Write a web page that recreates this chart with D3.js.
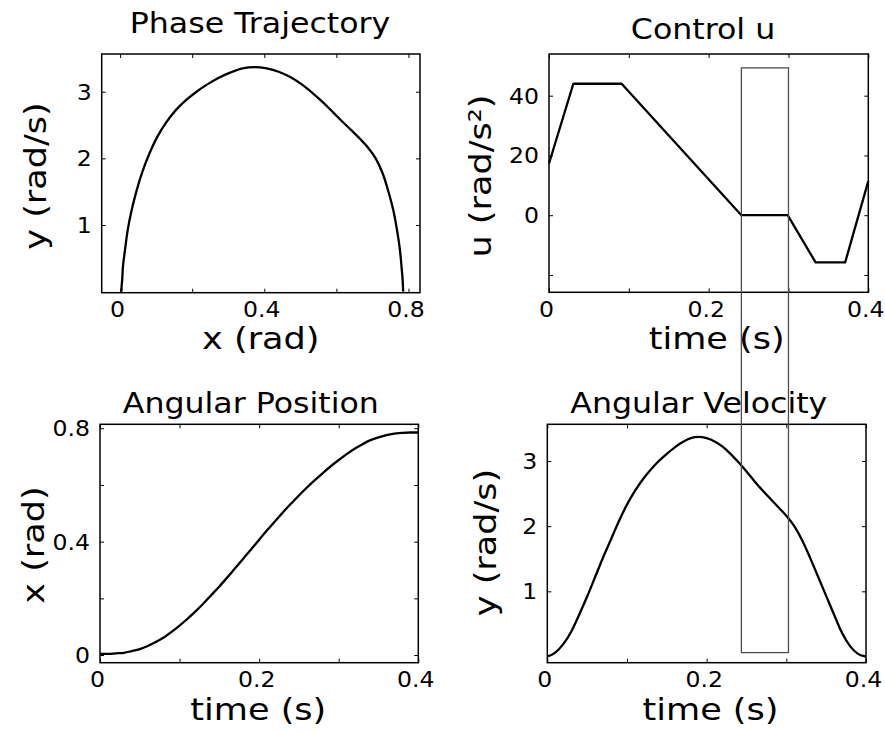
<!DOCTYPE html>
<html>
<head>
<meta charset="utf-8">
<script src="https://cdn.jsdelivr.net/npm/d3@7"></script>
<style>
  body { margin: 0; background: #fff; }
  svg { display: block; font-family: "DejaVu Sans", sans-serif; }
</style>
</head>
<body>
<script>
// time samples (s) shared by position / velocity / phase plots
var timeS = [0, 0.01, 0.02, 0.03, 0.04, 0.05, 0.06, 0.07, 0.08, 0.09,
    0.10, 0.11, 0.12, 0.13, 0.14, 0.15, 0.16, 0.17, 0.18, 0.19,
    0.20, 0.21, 0.22, 0.23, 0.24, 0.25, 0.26, 0.27, 0.28, 0.29,
    0.30, 0.31, 0.32, 0.33, 0.34, 0.35, 0.36, 0.37, 0.38, 0.39, 0.40];

// angular position x (rad)
var angularPosition = [0.004, 0.004, 0.006, 0.008, 0.014, 0.021, 0.032, 0.046, 0.062, 0.082,
    0.104, 0.128, 0.154, 0.182, 0.212, 0.242, 0.274, 0.307, 0.340, 0.373,
    0.407, 0.440, 0.472, 0.504, 0.534, 0.563, 0.591, 0.617, 0.642, 0.666,
    0.688, 0.709, 0.728, 0.744, 0.758, 0.768, 0.776, 0.781, 0.784, 0.785, 0.785];

// angular velocity y (rad/s)
var angularVelocity = [0.00, 0.06, 0.19, 0.38, 0.64, 0.92, 1.22, 1.52, 1.80, 2.08,
    2.33, 2.54, 2.72, 2.87, 3.00, 3.11, 3.21, 3.29, 3.35, 3.37,
    3.35, 3.30, 3.22, 3.11, 2.98, 2.84, 2.69, 2.55, 2.42, 2.29,
    2.16, 2.00, 1.78, 1.51, 1.22, 0.93, 0.64, 0.36, 0.16, 0.04, 0.00];

// control u (rad/s^2), piecewise linear breakpoints
var controlTime = [0, 0.0305, 0.091, 0.241, 0.299, 0.334, 0.371, 0.4];
var controlU = [17.3, 44, 44, 0, 0, -15.8, -15.8, 11.4];

// highlighted window
var highlightTime = [0.241, 0.300];
var highlightUTop = 49.3;
var highlightVBottom = 0.06;

// ticks and tick labels
var phaseXTicks = [0, 0.2, 0.4, 0.6, 0.8], phaseXLabels = [0, 0.4, 0.8];
var phaseYTicks = [1, 2, 3], phaseYLabels = [1, 2, 3];
var timeTicks = [0, 0.1, 0.2, 0.3, 0.4], timeLabels = [0, 0.2, 0.4];
var controlYTicks = [-20, 0, 20, 40], controlYLabels = [0, 20, 40];
var positionYTicks = [0, 0.2, 0.4, 0.6, 0.8], positionYLabels = [0, 0.4, 0.8];
var velocityYTicks = [1, 2, 3], velocityYLabels = [1, 2, 3];

var STRETCH = 1.15;

var svg = d3.select("body").append("svg")
    .attr("width", 885)
    .attr("height", 731);

svg.append("rect").attr("width", 885).attr("height", 731).attr("fill", "#fff");

// panel layout
var panels = [
    {
        box: {left: 101.7, right: 420, top: 54, bottom: 292.7},
        xDomain: [-0.051, 0.832], yDomain: [-0.016, 3.566],
        xTicks: phaseXTicks, xLabels: phaseXLabels, yTicks: phaseYTicks, yLabels: phaseYLabels,
        title: "Phase Trajectory", titlePos: [260, 33.3],
        xlabel: "x (rad)", xlabelPos: [260.8, 349],
        ylabel: "y (rad/s)", ylabelPos: [46, 176]
    },
    {
        box: {left: 549, right: 868.3, top: 54, bottom: 292.3},
        xDomain: [0, 0.4], yDomain: [-25.8, 53.95],
        xTicks: timeTicks, xLabels: timeLabels, yTicks: controlYTicks, yLabels: controlYLabels,
        title: "Control u", titlePos: [703, 39],
        xlabel: "time (s)", xlabelPos: [716.7, 349],
        ylabel: "u (rad/s\u00b2)", ylabelPos: [491, 176]
    },
    {
        box: {left: 100, right: 418.3, top: 424.3, bottom: 662.7},
        xDomain: [0, 0.4], yDomain: [-0.027, 0.814],
        xTicks: timeTicks, xLabels: timeLabels, yTicks: positionYTicks, yLabels: positionYLabels,
        title: "Angular Position", titlePos: [250.8, 413.3],
        xlabel: "time (s)", xlabelPos: [258.3, 719.5],
        ylabel: "x (rad)", ylabelPos: [44, 545]
    },
    {
        box: {left: 547.3, right: 866, top: 424.3, bottom: 662.7},
        xDomain: [0, 0.4], yDomain: [-0.095, 3.563],
        xTicks: timeTicks, xLabels: timeLabels, yTicks: velocityYTicks, yLabels: velocityYLabels,
        title: "Angular Velocity", titlePos: [698.8, 413.3],
        xlabel: "time (s)", xlabelPos: [710.5, 719.5],
        ylabel: "y (rad/s)", ylabelPos: [496, 542.5]
    }
];

function addText(g, str, x, y, size, rotate) {
    g.append("text")
        .attr("transform", "translate(" + x + "," + y + ")" + (rotate ? " rotate(-90)" : "") +
            " scale(" + STRETCH + ",1)")
        .attr("text-anchor", "middle")
        .style("font-size", size + "px")
        .attr("fill", "#000")
        .text(str);
}

function fmt(labels) {
    return function (d) {
        return labels.indexOf(d) >= 0 ? String(d) : "";
    };
}

panels.forEach(function (p) {
    var b = p.box;
    p.x = d3.scaleLinear().domain(p.xDomain).range([b.left, b.right]);
    p.y = d3.scaleLinear().domain(p.yDomain).range([b.bottom, b.top]);

    var g = svg.append("g");

    // bottom axis with labels
    var bx = g.append("g")
        .attr("transform", "translate(0," + b.bottom + ")")
        .call(d3.axisBottom(p.x).tickValues(p.xTicks).tickSizeInner(-4).tickSizeOuter(0)
            .tickFormat(fmt(p.xLabels)));
    bx.selectAll("text")
        .attr("y", 24.5).attr("dy", null)
        .attr("x", -3 / STRETCH)
        .attr("transform", "scale(" + STRETCH + ",1)")
        .style("font-size", "20.5px").attr("fill", "#000");

    // top axis, ticks only
    g.append("g")
        .attr("transform", "translate(0," + b.top + ")")
        .call(d3.axisTop(p.x).tickValues(p.xTicks).tickSizeInner(-4).tickSizeOuter(0).tickFormat(""));

    // left axis with labels
    var ly = g.append("g")
        .attr("transform", "translate(" + b.left + ",0)")
        .call(d3.axisLeft(p.y).tickValues(p.yTicks).tickSizeInner(-4).tickSizeOuter(0)
            .tickFormat(fmt(p.yLabels)));
    ly.selectAll("text")
        .attr("x", -10 / STRETCH).attr("dy", "0.36em")
        .attr("transform", "scale(" + STRETCH + ",1)")
        .style("font-size", "20.5px").attr("fill", "#000");

    // right axis, ticks only
    g.append("g")
        .attr("transform", "translate(" + b.right + ",0)")
        .call(d3.axisRight(p.y).tickValues(p.yTicks).tickSizeInner(-4).tickSizeOuter(0).tickFormat(""));

    g.selectAll(".domain").remove();
    g.selectAll(".tick line").attr("stroke", "#000").attr("stroke-width", 1);
    g.selectAll("text").style("font-family", "DejaVu Sans");

    // frame
    g.append("rect")
        .attr("x", b.left).attr("y", b.top)
        .attr("width", b.right - b.left).attr("height", b.bottom - b.top)
        .attr("fill", "none").attr("stroke", "#000").attr("stroke-width", 1.5);

    addText(g, p.title, p.titlePos[0], p.titlePos[1], 27.5, false);
    addText(g, p.xlabel, p.xlabelPos[0], p.xlabelPos[1], 30.5, false);
    addText(g, p.ylabel, p.ylabelPos[0], p.ylabelPos[1], 30.5, true);
});

var phase = panels[0], control = panels[1], position = panels[2], velocity = panels[3];

function drawLine(p, xs, ys, curve) {
    var line = d3.line()
        .x(function (d) { return p.x(d[0]); })
        .y(function (d) { return p.y(d[1]); })
        .curve(curve);
    svg.append("path")
        .datum(d3.zip(xs, ys))
        .attr("d", line)
        .attr("fill", "none")
        .attr("stroke", "#000")
        .attr("stroke-width", 2.3)
        .attr("stroke-linejoin", "round");
}

drawLine(phase, angularPosition, angularVelocity, d3.curveCatmullRom);
drawLine(control, controlTime, controlU, d3.curveLinear);
drawLine(position, timeS, angularPosition, d3.curveMonotoneX);
drawLine(velocity, timeS, angularVelocity, d3.curveMonotoneX);

// highlight window across the control and velocity plots
var hx0 = control.x(highlightTime[0]), hx1 = control.x(highlightTime[1]);
var hy0 = control.y(highlightUTop), hy1 = velocity.y(highlightVBottom);
svg.append("rect")
    .attr("x", hx0).attr("y", hy0)
    .attr("width", hx1 - hx0).attr("height", hy1 - hy0)
    .attr("fill", "none")
    .attr("stroke", "#4d4d4d")
    .attr("stroke-width", 1.3);
</script>
</body>
</html>
